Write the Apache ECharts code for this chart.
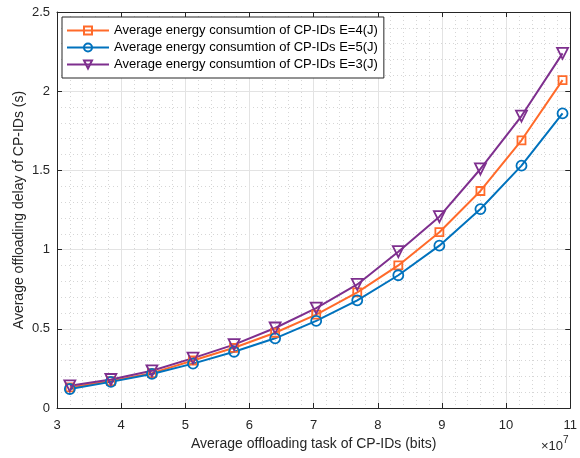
<!DOCTYPE html>
<html><head><meta charset="utf-8">
<script src="https://cdn.jsdelivr.net/npm/echarts@6/dist/echarts.min.js"></script>
<style>html,body{margin:0;padding:0;background:#fff}#c{width:580px;height:458px}</style>
</head><body><div id="c"></div>
<script>
const xValues = [3.2, 3.84, 4.48, 5.12, 5.76, 6.4, 7.04, 7.68, 8.32, 8.96, 9.6, 10.24, 10.88];
const delayE4 = [0.13, 0.17, 0.22, 0.30, 0.38, 0.475, 0.59, 0.73, 0.90, 1.11, 1.37, 1.69, 2.07];
const delayE5 = [0.12, 0.165, 0.215, 0.28, 0.355, 0.44, 0.55, 0.68, 0.838, 1.025, 1.256, 1.53, 1.86];
const delayE3 = [0.14, 0.18, 0.235, 0.315, 0.40, 0.505, 0.63, 0.78, 0.987, 1.208, 1.509, 1.843, 2.239];
const seriesNames = ['Average energy consumtion of CP-IDs E=4(J)', 'Average energy consumtion of CP-IDs E=5(J)', 'Average energy consumtion of CP-IDs E=3(J)'];
const xAxisName = 'Average offloading task of CP-IDs (bits)';
const yAxisName = 'Average offloading delay of CP-IDs (s)';

const FONT = 'Liberation Sans, Arial, sans-serif';
const AX = '#262626';
const chart = echarts.init(document.getElementById('c'), null, {renderer: 'canvas'});
function pair(ys) { return xValues.map((x, i) => [x, ys[i]]); }
function mk(name, ys, color, symbol, size, rot) {
  return {
    name, type: 'line', data: pair(ys), symbol, symbolSize: size, symbolRotate: rot || 0,
    lineStyle: {color, width: 2}, itemStyle: {color: 'rgba(255,255,255,0)', borderColor: color, borderWidth: 1.8},
    emphasis: {disabled: true}, animation: false, z: 3
  };
}
const commonAxis = {
  axisLine: {show: true, onZero: false, lineStyle: {color: AX, width: 1}},
  axisTick: {show: true, inside: true, length: 5, lineStyle: {color: AX}},
};
chart.setOption({
  animation: false,
  textStyle: {fontFamily: FONT},
  grid: {left: 57, right: 5, top: 12, bottom: 50},
  legend: {
    left: 62, top: 17, orient: 'vertical', itemWidth: 42, itemHeight: 10, itemGap: 4,
    borderColor: AX, borderWidth: 1, backgroundColor: '#fff', padding: [7, 6, 7, 4],
    textStyle: {fontFamily: FONT, fontSize: 13, color: '#000'},
    data: seriesNames
  },
  xAxis: [{
    type: 'value', min: 3, max: 11, interval: 1, ...commonAxis,
    axisLabel: {color: AX, fontSize: 13, fontFamily: FONT, margin: 11},
    splitLine: {show: true, lineStyle: {color: '#e3e3e3', width: 1}},
    minorTick: {show: false, splitNumber: 5},
    minorSplitLine: {show: true, lineStyle: {color: '#d6d6d6', type: [1, 3], width: 1}},
    name: xAxisName, nameLocation: 'middle', nameGap: 26,
    nameTextStyle: {color: AX, fontSize: 14, fontFamily: FONT}
  }, {
    type: 'value', position: 'top', min: 3, max: 11, interval: 1, ...commonAxis,
    axisLabel: {show: false}, splitLine: {show: false}
  }],
  yAxis: [{
    type: 'value', min: 0, max: 2.5, interval: 0.5, ...commonAxis,
    axisLabel: {color: AX, fontSize: 13, fontFamily: FONT, margin: 7},
    splitLine: {show: true, lineStyle: {color: '#e3e3e3', width: 1}},
    minorTick: {show: false, splitNumber: 5},
    minorSplitLine: {show: true, lineStyle: {color: '#d6d6d6', type: [1, 3], width: 1}},
    name: yAxisName, nameLocation: 'middle', nameGap: 31, nameMoveOverlap: false,
    nameTextStyle: {color: AX, fontSize: 14, fontFamily: FONT}
  }, {
    type: 'value', position: 'right', min: 0, max: 2.5, interval: 0.5, ...commonAxis,
    axisLabel: {show: false}, splitLine: {show: false}
  }],
  graphic: [{
    type: 'text', left: 541, top: 435,
    style: {
      text: '{a|×10}{b|7}', fill: AX, fontFamily: FONT,
      rich: {a: {fontSize: 13, fontFamily: FONT, fill: AX, verticalAlign: 'bottom'},
             b: {fontSize: 10, fontFamily: FONT, fill: AX, verticalAlign: 'top', padding: [0, 0, 8, 0]}}
    }
  }],
  series: [
    mk(seriesNames[0], delayE4, '#FF6A2A', 'rect', 8),
    mk(seriesNames[1], delayE5, '#0072BD', 'circle', 10),
    mk(seriesNames[2], delayE3, '#7E2F8E', 'triangle', 11, 180)
  ]
});
</script></body></html>
